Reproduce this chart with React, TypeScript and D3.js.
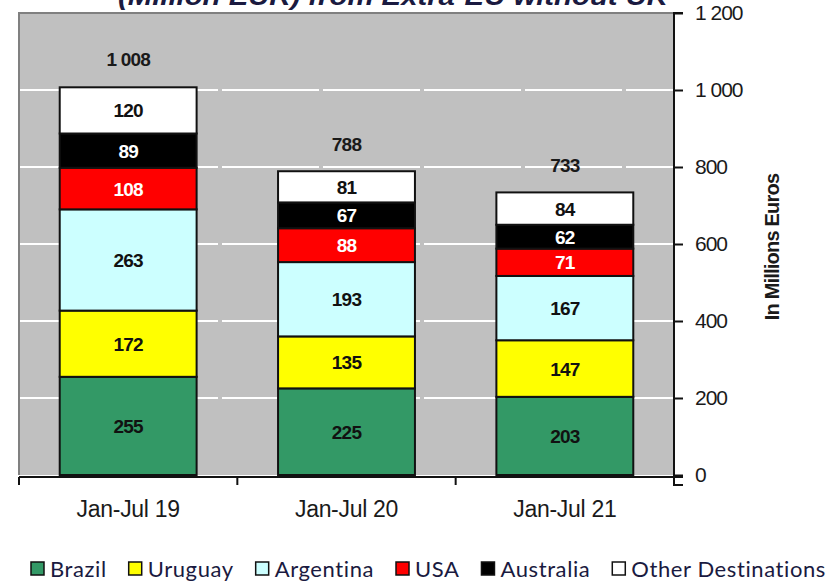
import * as d3 from "d3";
import { useEffect, useRef } from "react";

const periods = ["Jan-Jul 19", "Jan-Jul 20", "Jan-Jul 21"];
const destinations = ["Brazil", "Uruguay", "Argentina", "USA", "Australia", "Other Destinations"];
const brazil = [255, 225, 203];
const uruguay = [172, 135, 147];
const argentina = [263, 193, 167];
const usa = [108, 88, 71];
const australia = [89, 67, 62];
const other = [120, 81, 84];
const totals = [1008, 788, 733];
const yTicks = [0, 200, 400, 600, 800, 1000, 1200];

const fills = ["#339966", "#FFFF00", "#CCFFFF", "#FF0000", "#000000", "#FFFFFF"];
const labelFills = ["#111", "#111", "#111", "#fff", "#fff", "#111"];

const W = 840;
const H = 582;
const plot = { left: 19, right: 674, top: 13, bottom: 475 };

const fmt = (v: number) => d3.format(",")(v).replace(/,/g, " ");

export default function App() {
  const ref = useRef<SVGSVGElement>(null);

  useEffect(() => {
    const svg = d3.select(ref.current);
    svg.selectAll("*").remove();

    const series = [brazil, uruguay, argentina, usa, australia, other];
    const rows = periods.map((p, i) => {
      const r: any = { period: p };
      destinations.forEach((d, k) => (r[d] = series[k][i]));
      return r;
    });
    const stacked = d3.stack().keys(destinations)(rows);

    const x = d3
      .scaleBand()
      .domain(periods)
      .range([plot.left, plot.right])
      .paddingInner(0.373)
      .paddingOuter(0.1865);
    const y = d3.scaleLinear().domain([0, 1200]).range([plot.bottom, plot.top]);

    const font = "'Liberation Sans', Arial, sans-serif";

    // title (top line cut off in the source)
    svg
      .append("text")
      .attr("x", 393)
      .attr("y", 5)
      .attr("text-anchor", "middle")
      .attr("font-family", font)
      .attr("font-weight", 700)
      .attr("font-style", "italic")
      .attr("font-size", 26)
      .attr("fill", "#1a1a40")
      .attr("textLength", 550)
      .attr("lengthAdjust", "spacingAndGlyphs")
      .text("(Million EUR) from Extra-EU without UK");

    // plot background
    svg
      .append("rect")
      .attr("x", plot.left)
      .attr("y", plot.top)
      .attr("width", plot.right - plot.left)
      .attr("height", plot.bottom - plot.top)
      .attr("fill", "#C0C0C0");
    svg
      .append("path")
      .attr("d", `M${plot.left},${plot.bottom}V${plot.top}H${plot.right}`)
      .attr("fill", "none")
      .attr("stroke", "#808080")
      .attr("stroke-width", 2);

    // gridlines
    svg
      .append("g")
      .selectAll("line")
      .data(yTicks.filter((t) => t > 0 && t < 1200))
      .join("line")
      .attr("x1", plot.left + 1)
      .attr("x2", plot.right)
      .attr("y1", (d) => y(d))
      .attr("y2", (d) => y(d))
      .attr("stroke", "#fff")
      .attr("stroke-width", 2)
      .attr("stroke-dasharray", "97,4");

    // bars
    const bw = x.bandwidth();
    stacked.forEach((layer, k) => {
      const g = svg.append("g");
      g.selectAll("rect")
        .data(layer)
        .join("rect")
        .attr("x", (d: any) => x(d.data.period)!)
        .attr("y", (d) => y(d[1]))
        .attr("width", bw)
        .attr("height", (d) => y(d[0]) - y(d[1]))
        .attr("fill", fills[k])
        .attr("stroke", "#111")
        .attr("stroke-width", 2);
      g.selectAll("text")
        .data(layer)
        .join("text")
        .attr("x", (d: any) => x(d.data.period)! + bw / 2)
        .attr("y", (d) => (y(d[0]) + y(d[1])) / 2 + 7)
        .attr("text-anchor", "middle")
        .attr("font-family", font)
        .attr("font-weight", 700)
        .attr("font-size", 19)
        .attr("letter-spacing", -0.8)
        .attr("fill", labelFills[k])
        .text((d) => fmt(d[1] - d[0]));
    });

    // totals
    svg
      .append("g")
      .selectAll("text")
      .data(totals)
      .join("text")
      .attr("x", (_, i) => x(periods[i])! + bw / 2)
      .attr("y", (d) => y(d) - 21)
      .attr("text-anchor", "middle")
      .attr("font-family", font)
      .attr("font-weight", 700)
      .attr("font-size", 19)
      .attr("letter-spacing", -0.8)
      .attr("fill", "#1a1a1a")
      .text((d) => fmt(d));

    // right axis
    const ya = svg.append("g").attr("transform", `translate(${plot.right},0)`);
    ya.call(
      d3
        .axisRight(y)
        .tickValues(yTicks)
        .tickSize(9)
        .tickPadding(12)
        .tickFormat((d) => fmt(+d))
    );
    ya.select(".domain").attr("stroke", "#111").attr("stroke-width", 2).attr("d", `M9,${plot.bottom + 10}H0V${plot.top}H9`);
    ya.selectAll("line").attr("stroke", "#111").attr("stroke-width", 2);
    ya.selectAll("text")
      .attr("font-family", font)
      .attr("font-size", 21)
      .attr("letter-spacing", -1)
      .attr("fill", "#1a1a1a");

    // bottom axis
    const xa = svg.append("g").attr("transform", `translate(0,${plot.bottom + 2})`);
    xa.call(d3.axisBottom(x).tickSize(0).tickPadding(24));
    xa.select(".domain").remove();
    xa.append("line")
      .attr("x1", plot.left)
      .attr("x2", plot.right + 9)
      .attr("stroke", "#111")
      .attr("stroke-width", 2);
    const bounds = [plot.left, ...periods.slice(1).map((p) => x(p)! - (x.step() - bw) / 2), plot.right];
    xa.selectAll(".bound")
      .data(bounds)
      .join("line")
      .attr("x1", (d) => d)
      .attr("x2", (d) => d)
      .attr("y1", 0)
      .attr("y2", 8)
      .attr("stroke", "#111")
      .attr("stroke-width", 2);
    xa.selectAll("text")
      .attr("font-family", font)
      .attr("font-size", 23)
      .attr("letter-spacing", -0.3)
      .attr("fill", "#1a1a1a");

    // y title
    svg
      .append("text")
      .attr("transform", `translate(779,247) rotate(-90)`)
      .attr("text-anchor", "middle")
      .attr("font-family", font)
      .attr("font-weight", 700)
      .attr("font-size", 20)
      .attr("letter-spacing", -0.8)
      .attr("fill", "#1a1a1a")
      .text("In Millions Euros");

    // legend: spread items across 31..826 like the source
    const lg = svg.append("g").attr("transform", "translate(31,577)");
    const items = destinations.map((d, k) => {
      const g = lg.append("g");
      g.append("rect")
        .attr("x", 0)
        .attr("y", -15)
        .attr("width", 13)
        .attr("height", 13)
        .attr("fill", fills[k])
        .attr("stroke", "#111")
        .attr("stroke-width", 1.5);
      const t = g
        .append("text")
        .attr("x", 19)
        .attr("y", 0)
        .attr("font-family", "Lato, sans-serif")
        .attr("font-size", 22)
        .attr("letter-spacing", 0.6)
        .attr("fill", "#1a1a40")
        .text(d);
      return { g, w: 19 + (t.node() as SVGTextElement).getComputedTextLength() };
    });
    const used = d3.sum(items, (it) => it.w);
    const gap = (826 - 31 - used) / (items.length - 1);
    let cx = 0;
    items.forEach((it) => {
      it.g.attr("transform", `translate(${cx},0)`);
      cx += it.w + gap;
    });
  }, []);

  return (
    <svg
      ref={ref}
      width={W}
      height={H}
      style={{ position: "absolute", left: 0, top: 0, background: "#fff" }}
    />
  );
}
